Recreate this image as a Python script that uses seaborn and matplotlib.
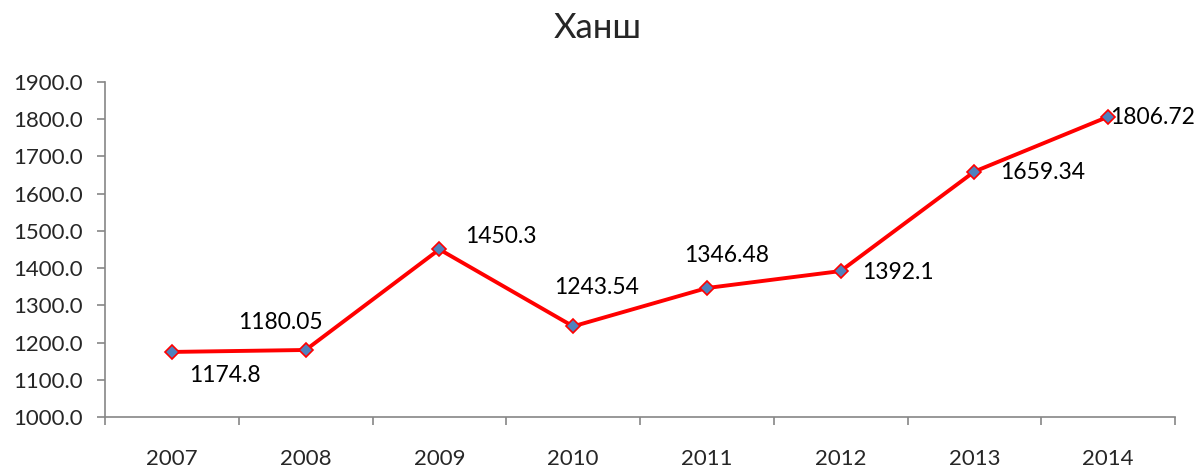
import matplotlib.pyplot as plt
import matplotlib.ticker as mticker
import seaborn as sns
import pandas as pd

years = ['2007', '2008', '2009', '2010', '2011', '2012', '2013', '2014']
rates = [1174.8, 1180.05, 1450.3, 1243.54, 1346.48, 1392.1, 1659.34, 1806.72]
labels = ['1174.8', '1180.05', '1450.3', '1243.54', '1346.48', '1392.1', '1659.34', '1806.72']
# label offsets in pixels (dx, dy), text centred
label_offsets = [(53, -24), (-25, 27), (61, 13), (23, 39), (20, 33), (57, -1), (68, -1), (44, -1)]

sns.set_style('white')
plt.rcParams['font.family'] = ['Lato', 'DejaVu Sans']

df = pd.DataFrame({'year': years, 'rate': rates})

fig = plt.figure(figsize=(11.96, 4.68), dpi=100)
ax = fig.add_axes([105/1196, 1 - 417/468, 1070/1196, 335/468])

sns.lineplot(data=df, x='year', y='rate', ax=ax, color='#FF0000', linewidth=2.8,
             marker='D', markersize=7, markerfacecolor='#4F81BD',
             markeredgecolor='#FF0000', markeredgewidth=1.2)

for i, (lab, (dx, dy)) in enumerate(zip(labels, label_offsets)):
    ax.annotate(lab, (i, rates[i]), xytext=(dx, dy), textcoords='offset pixels',
                ha='center', va='center', fontsize=16.5, color='black')

ax.set_xlim(-0.5, len(years) - 0.5)
ax.set_ylim(1000, 1900)
ax.yaxis.set_major_locator(mticker.MultipleLocator(100))
ax.yaxis.set_major_formatter(mticker.FormatStrFormatter('%.1f'))
ax.set_xticks(range(len(years)))
ax.set_xticklabels(years)
ax.set_xticks([i - 0.5 for i in range(len(years) + 1)], minor=True)
ax.tick_params(axis='x', which='major', length=0, pad=23, labelsize=16)
ax.tick_params(axis='x', which='minor', length=6, width=1.2, color='#868686', direction='out')
ax.tick_params(axis='y', length=6, width=1.2, color='#868686', direction='out', pad=10, labelsize=16)
ax.tick_params(bottom=True, left=True, which='both')

for side in ['top', 'right']:
    ax.spines[side].set_visible(False)
for side in ['left', 'bottom']:
    ax.spines[side].set_color('#868686')
    ax.spines[side].set_linewidth(1.2)

ax.set_xlabel('')
ax.set_ylabel('')
fig.suptitle('Ханш', fontsize=25, y=0.975)

fig.savefig('out.png', dpi=100)
